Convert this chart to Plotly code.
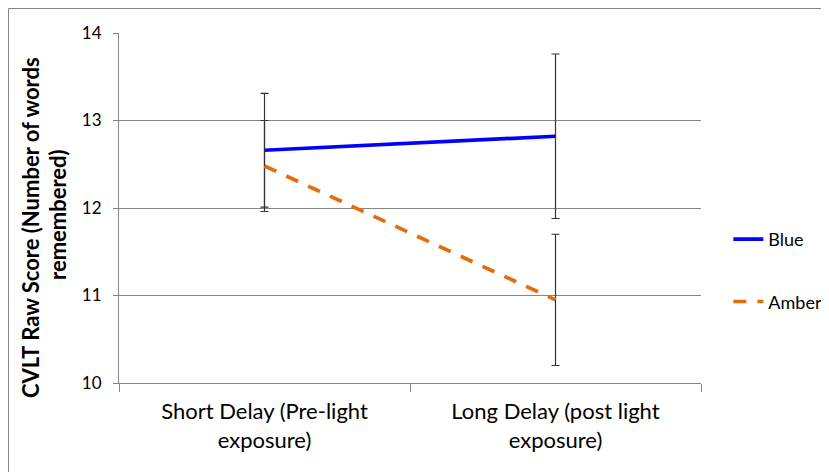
import plotly.graph_objects as go

categories = ["Short Delay (Pre-light<br>exposure)", "Long Delay (post light<br>exposure)"]
blue_values = [12.66, 12.82]
blue_err = [0.65, 0.94]
amber_values = [12.48, 10.95]
amber_err = [0.52, 0.75]
y_ticks = [10, 11, 12, 13, 14]
y_title_lines = ["CVLT Raw Score (Number of words", "remembered)"]

FONT = "Lato"
W, H = 821, 464
L, R, T, B = 111, 128, 25, 89
PW, PH = W - L - R, H - T - B

fig = go.Figure()
fig.add_trace(go.Scatter(
    x=categories, y=blue_values, name="Blue", mode="lines",
    line=dict(color="#0000FF", width=3.7),
    error_y=dict(type="data", array=blue_err, visible=True, color="#333333", thickness=1.2, width=4),
    legend="legend",
))
fig.add_trace(go.Scatter(
    x=categories, y=amber_values, name="Amber", mode="lines",
    line=dict(color="#E46C0A", width=3.7, dash="13px,11px"),
    error_y=dict(type="data", array=amber_err, visible=True, color="#333333", thickness=1.2, width=4),
    legend="legend2",
))

fig.update_layout(
    width=W, height=H,
    margin=dict(l=L, r=R, t=T, b=B, autoexpand=False),
    plot_bgcolor="white", paper_bgcolor="white",
    font=dict(family=FONT, size=16, color="#000000"),
    legend=dict(x=1.047, y=0.41, xanchor="left", yanchor="middle", font=dict(size=18), bgcolor="rgba(0,0,0,0)"),
    legend2=dict(x=1.047, y=0.232, xanchor="left", yanchor="middle", font=dict(size=18), bgcolor="rgba(0,0,0,0)"),
    showlegend=True,
)
fig.update_xaxes(
    type="category", tickson="boundaries", ticks="outside", ticklen=8, tickcolor="#868686",
    showline=True, linecolor="#868686", linewidth=1, showgrid=False,
    tickfont=dict(size=22, family=FONT), range=[-0.5, 1.5], ticklabelstandoff=9,
)
fig.update_yaxes(
    range=[10, 14], tickvals=y_ticks, ticks="outside", ticklen=5, tickcolor="#868686",
    showline=True, linecolor="#868686", linewidth=1,
    showgrid=True, gridcolor="#868686", gridwidth=1, zeroline=False,
    tickfont=dict(size=17, family=FONT), ticklabelstandoff=8,
)
# y-axis title as two rotated lines
for txt, px, py in [(y_title_lines[0], 30, 228), (y_title_lines[1], 57, 215)]:
    fig.add_annotation(text="<b>" + txt + "</b>", textangle=-90, showarrow=False,
                       xref="paper", yref="paper",
                       x=(px - 8 - L) / PW, y=1 - (py - 8 - T) / PH,
                       xanchor="center", yanchor="middle",
                       font=dict(size=22, family=FONT, color="#000000"))
fig.add_shape(type="rect", xref="paper", yref="paper",
              x0=(0.5 - L) / PW, x1=(W + 20 - L) / PW, y0=-(B + 20) / PH, y1=1 + (T - 0.5) / PH,
              line=dict(color="#868686", width=1), fillcolor="rgba(0,0,0,0)", layer="below")
fig.write_html("out.html")
